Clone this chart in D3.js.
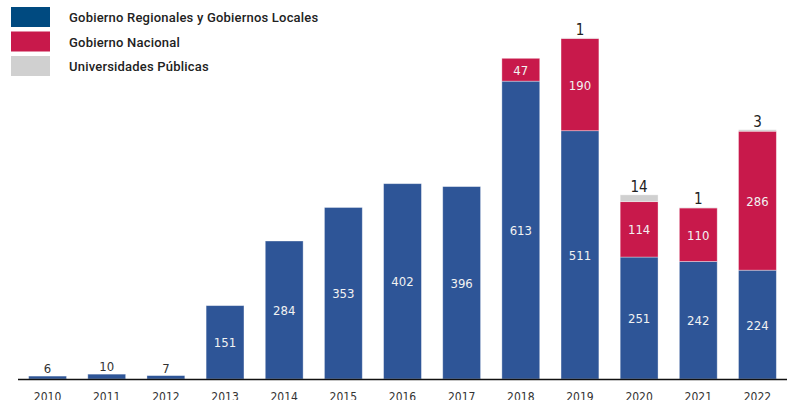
<!DOCTYPE html>
<html>
<head>
<meta charset="utf-8">
<script src="https://cdn.jsdelivr.net/npm/d3@7"></script>
<style>
  body { margin: 0; background: #fff; }
  svg { display: block; }
</style>
</head>
<body>
<div id="chart"></div>
<script>
  let years = ['2010', '2011', '2012', '2013', '2014', '2015', '2016', '2017', '2018', '2019', '2020', '2021', '2022']
  let regionales = [6, 10, 7, 151, 284, 353, 402, 396, 613, 511, 251, 242, 224]
  let nacional = [0, 0, 0, 0, 0, 0, 0, 0, 47, 190, 114, 110, 286]
  let universidades = [0, 0, 0, 0, 0, 0, 0, 0, 0, 1, 14, 1, 3]

  let seriesNames = ['Gobierno Regionales y Gobiernos Locales', 'Gobierno Nacional', 'Universidades Públicas']
  let seriesKeys = ['reg', 'nac', 'uni']

  let width = 792,
    height = 400

  let colors = { reg: '#2e5597', nac: '#c8194b', uni: '#d0d0d0' }
  let legendColors = ['#004a80', '#c8194b', '#d0d0d0']
  let numFont = '"DejaVu Sans Condensed", "Liberation Sans Narrow", "Arial Narrow", sans-serif'

  let rows = years.map((y, i) => ({ year: y, reg: regionales[i], nac: nacional[i], uni: universidades[i] }))

  let svg = d3.select('#chart')
    .append('svg')
    .attr('width', width)
    .attr('height', height)

  let x = d3.scaleBand()
    .domain(years)
    .range([18, 787])
    .paddingInner(0.36)
    .paddingOuter(0.18)

  let y = d3.scaleLinear()
    .domain([0, 780])
    .range([379, 0])

  let stack = d3.stack().keys(seriesKeys)
  let layers = stack(rows)

  let groups = svg.selectAll('.layer')
    .data(layers)
    .enter()
    .append('g')
    .attr('class', 'layer')
    .attr('fill', d => colors[d.key])

  groups.selectAll('rect')
    .data(d => d.filter(s => s[1] - s[0] > 0))
    .enter()
    .append('rect')
    .attr('x', d => x(d.data.year))
    .attr('width', x.bandwidth())
    .attr('y', d => y(d[1]))
    .attr('height', d => y(d[0]) - y(d[1]))
    .attr('stroke', 'rgba(255,255,255,0.45)')
    .attr('stroke-width', 0.8)

  // labels inside the segments (white)
  layers.slice(0, 2).forEach(layer => {
    svg.append('g')
      .selectAll('text')
      .data(layer.filter(s => s[1] - s[0] > 20))
      .enter()
      .append('text')
      .attr('x', d => x(d.data.year) + x.bandwidth() / 2)
      .attr('y', d => (y(d[0]) + y(d[1])) / 2 + 5)
      .attr('text-anchor', 'middle')
      .style('font-family', numFont)
      .style('font-size', '13px')
      .style('fill', '#f2f2f2')
      .text(d => d[1] - d[0])
  })

  // small regional values above bars
  svg.append('g')
    .selectAll('text')
    .data(rows.filter(d => d.reg <= 20))
    .enter()
    .append('text')
    .attr('x', d => x(d.year) + x.bandwidth() / 2)
    .attr('y', d => y(d.reg) - 3)
    .attr('text-anchor', 'middle')
    .style('font-family', numFont)
    .style('font-size', '13px')
    .style('fill', '#333')
    .text(d => d.reg)

  // universidades values above bars
  svg.append('g')
    .selectAll('text')
    .data(rows.filter(d => d.uni > 0))
    .enter()
    .append('text')
    .attr('x', d => x(d.year) + x.bandwidth() / 2)
    .attr('y', d => y(d.reg + d.nac + d.uni) - 3)
    .attr('text-anchor', 'middle')
    .style('font-family', numFont)
    .style('font-size', '15px')
    .style('fill', '#222')
    .text(d => d.uni)

  // baseline
  svg.append('line')
    .attr('x1', 18)
    .attr('x2', 787)
    .attr('y1', y(0) + 0.5)
    .attr('y2', y(0) + 0.5)
    .attr('stroke', '#111')
    .attr('stroke-width', 1.5)

  let xAxis = svg.append('g')
    .attr('transform', `translate(0,${y(0)})`)
    .call(d3.axisBottom(x).tickSize(0).tickPadding(13))

  xAxis.select('.domain').remove()
  xAxis.selectAll('text')
    .style('font-family', numFont)
    .style('font-size', '12px')
    .style('fill', '#333')

  // legend
  let legend = svg.append('g')
    .selectAll('.legend')
    .data(seriesNames)
    .enter()
    .append('g')
    .attr('class', 'legend')
    .attr('transform', (d, i) => `translate(11,${7 + i * 24.5})`)

  legend.append('rect')
    .attr('width', 39)
    .attr('height', 20)
    .attr('fill', (d, i) => legendColors[i])

  legend.append('text')
    .attr('x', 58)
    .attr('y', 15)
    .style('font-family', 'Roboto, sans-serif')
    .style('font-weight', 500)
    .style('font-size', '13px')
    .style('letter-spacing', '0.2px')
    .style('fill', '#222')
    .text(d => d)
</script>
</body>
</html>
